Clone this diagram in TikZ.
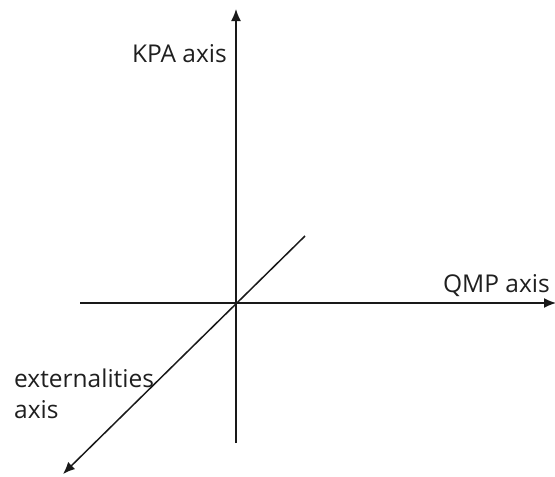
\documentclass[tikz,border=0pt]{standalone}
\usepackage{fontspec}
\setmainfont{Open Sans}
\usetikzlibrary{arrows.meta}
\begin{document}
\begin{tikzpicture}[x=1pt,y=-1pt,
  axisline/.style={line width=1.5pt,draw=black!90,-{Latex[length=12pt,width=10pt]}},
  lbl/.style={inner sep=0pt,font=\fontsize{24.5}{29}\selectfont,text=black!88}]
\useasboundingbox (0,0) rectangle (555,477);
\coordinate (O) at (236,303);
\coordinate (vtop) at (236,9);
\coordinate (vbot) at (236,443);
\coordinate (hleft) at (80,303);
\coordinate (hright) at (556,303);
\coordinate (dtop) at (305,236);
\coordinate (dbot) at (63,474);
% vertical KPA axis
\draw[axisline] (vbot) -- (vtop);
% horizontal QMP axis
\draw[axisline] (hleft) -- (hright);
% diagonal externalities axis
\draw[axisline] (dtop) -- (dbot);
\node[lbl,anchor=base east] (kpa) at (227,62) {KPA axis};
\node[lbl,anchor=base east] (qmp) at (550,292) {QMP axis};
\node[lbl,anchor=base west] (ext) at (14,387) {externalities};
\node[lbl,anchor=base west] (extb) at (14,418) {axis};
\end{tikzpicture}
\end{document}
